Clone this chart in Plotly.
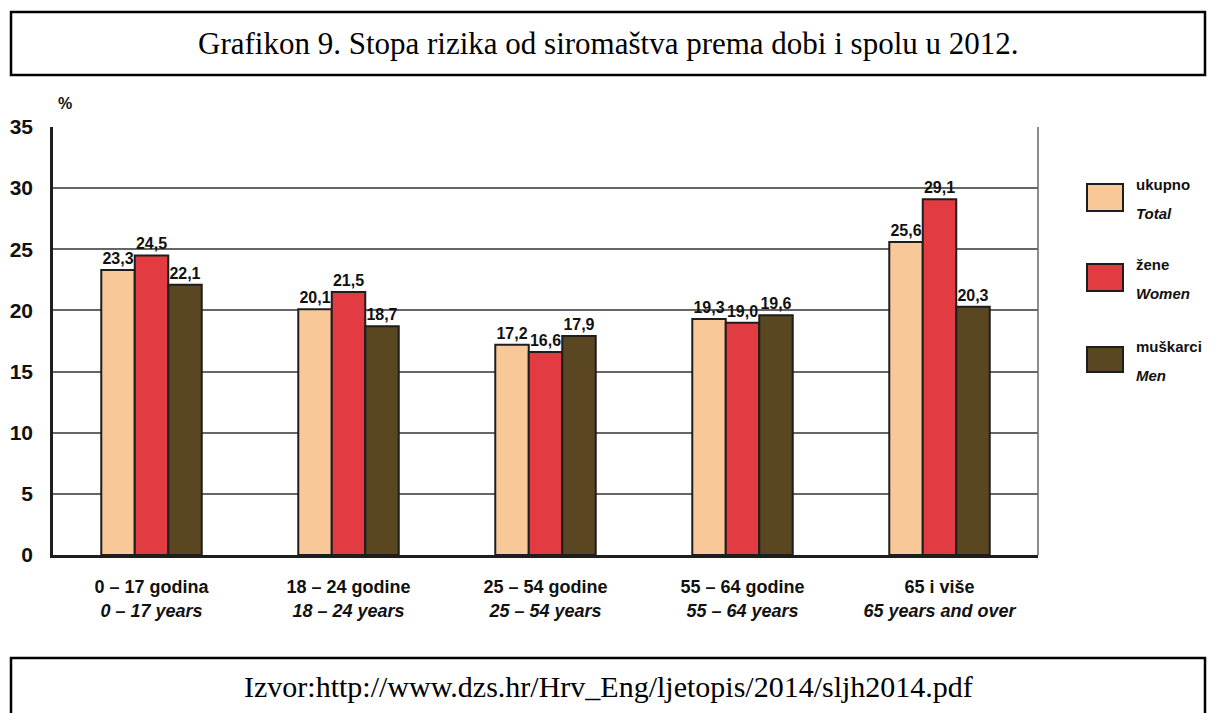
import plotly.graph_objects as go

categories = ["0 – 17 godina<br><i>0 – 17 years</i>",
              "18 – 24 godine<br><i>18 – 24 years</i>",
              "25 – 54 godine<br><i>25 – 54 years</i>",
              "55 – 64 godine<br><i>55 – 64 years</i>",
              "65 i više<br><i>65 years and over</i>"]
total = [23.3, 20.1, 17.2, 19.3, 25.6]
women = [24.5, 21.5, 16.6, 19.0, 29.1]
men = [22.1, 18.7, 17.9, 19.6, 20.3]
series_names = ["ukupno", "žene", "muškarci"]
series_names_en = ["Total", "Women", "Men"]
colors = ["#F8C898", "#E23C42", "#5A4620"]
y_ticks = [0, 5, 10, 15, 20, 25, 30, 35]

SANS = "Liberation Sans, Arial, Helvetica, sans-serif"
SERIF = "Liberation Serif, Times New Roman, serif"

fig = go.Figure()
for vals, name, col in zip([total, women, men], series_names, colors):
    fig.add_trace(go.Bar(
        x=categories, y=vals, name=name,
        marker=dict(color=col, line=dict(color="#1e1e1e", width=2)),
        texttemplate="%{y:.1f}", textposition="outside", cliponaxis=False,
        constraintext="none",
        textfont=dict(family=SANS, size=16, color="#111", weight="bold"),
        showlegend=False,
    ))

W, H = 1216, 713
OFF = 8  # page body margin
# plot area in screen pixels
L, R, T, B = 53, 1038, 127, 555
pw, ph = R - L, B - T


def px(x):
    return (x - L) / pw


def py(y):
    return (B - y) / ph


shapes = []
shapes.append(dict(type="line", xref="paper", yref="paper", x0=1, x1=1, y0=0, y1=1,
                   line=dict(color="#666", width=1.5)))
shapes.append(dict(type="rect", xref="paper", yref="paper", x0=px(11), x1=px(1205),
                   y0=py(75), y1=py(12), line=dict(color="#000", width=2.5)))
shapes.append(dict(type="rect", xref="paper", yref="paper", x0=px(11), x1=px(1205),
                   y0=py(740), y1=py(658), line=dict(color="#000", width=2.5)))

annotations = []
annotations.append(dict(text="Grafikon 9. Stopa rizika od siromaštva prema dobi i spolu u 2012.",
                        xref="paper", yref="paper", x=px(608), y=py(43), showarrow=False,
                        xanchor="center", yanchor="middle",
                        font=dict(family=SERIF, size=31, color="#000")))
annotations.append(dict(text="Izvor:http://www.dzs.hr/Hrv_Eng/ljetopis/2014/sljh2014.pdf",
                        xref="paper", yref="paper", x=px(608), y=py(686), showarrow=False,
                        xanchor="center", yanchor="middle",
                        font=dict(family=SERIF, size=30, color="#000")))
annotations.append(dict(text="%", xref="paper", yref="paper", x=px(56), y=py(104),
                        showarrow=False, xanchor="left", yanchor="middle",
                        font=dict(family=SANS, size=16, color="#111", weight="bold")))

leg_y = [(184, 211), (264, 291), (347, 372)]
for (y0, y1), col, n1, n2 in zip(leg_y, colors, series_names, series_names_en):
    shapes.append(dict(type="rect", xref="paper", yref="paper", x0=px(1087), x1=px(1123),
                       y0=py(y1), y1=py(y0), fillcolor=col,
                       line=dict(color="#1e1e1e", width=2)))
    yc = (y0 + y1) / 2
    annotations.append(dict(text=n1, xref="paper", yref="paper", x=px(1134), y=py(yc - 13),
                            showarrow=False, xanchor="left", yanchor="middle",
                            font=dict(family=SANS, size=15, color="#111", weight="bold")))
    annotations.append(dict(text="<i>" + n2 + "</i>", xref="paper", yref="paper", x=px(1134),
                            y=py(yc + 16), showarrow=False, xanchor="left", yanchor="middle",
                            font=dict(family=SANS, size=15, color="#111", weight="bold")))

fig.update_layout(
    width=W, height=H,
    margin=dict(l=L - OFF, r=W - (R - OFF), t=T - OFF, b=H - (B - OFF), pad=0),
    paper_bgcolor="white", plot_bgcolor="white",
    barmode="group", bargap=0.49, bargroupgap=0,
    separators=",.",
    shapes=shapes, annotations=annotations,
    xaxis=dict(showline=True, linecolor="#1e1e1e", linewidth=2.5, ticks="",
               automargin=False, ticklabelstandoff=14,
               tickfont=dict(family=SANS, size=18, color="#111", weight="bold"),
               showgrid=False),
    yaxis=dict(range=[0, 35], tickvals=y_ticks, showline=True, linecolor="#1e1e1e",
               linewidth=2.5, showgrid=True, gridcolor="#666", gridwidth=1.5,
               ticks="", ticklabelstandoff=13, automargin=False,
               tickfont=dict(family=SANS, size=21, color="#111", weight="bold"),
               zeroline=False),
)

fig.write_html("out.html")
